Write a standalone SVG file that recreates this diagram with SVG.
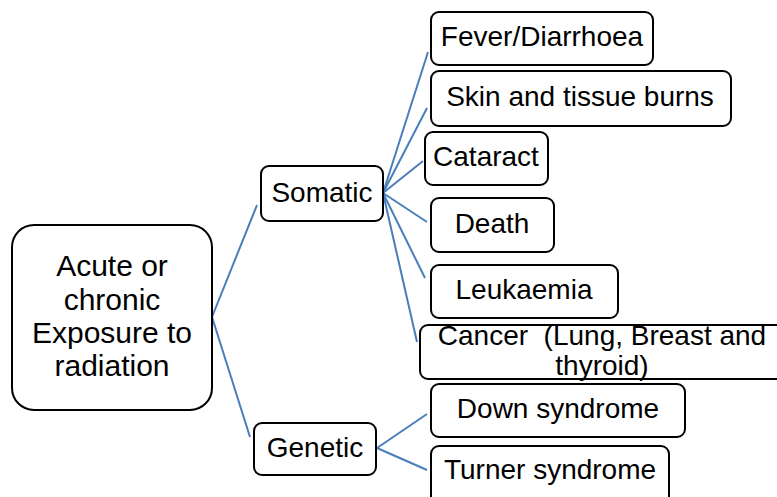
<svg xmlns="http://www.w3.org/2000/svg" width="777" height="497" viewBox="0 0 777 497">
<style>
.box{fill:#fff;stroke:#000;stroke-width:2}
.t{font-family:"Liberation Sans",Arial,sans-serif;font-size:28px;fill:#000;text-anchor:middle}
.r{font-size:30px}
.c{stroke:#4A7EBB;stroke-width:2;fill:none}
</style>
<rect width="777" height="497" fill="#fff"/>
<g id="connectors">
<line class="c" x1="212" y1="317" x2="257" y2="205"/>
<line class="c" x1="212" y1="317" x2="250" y2="437"/>
<line class="c" x1="383" y1="193" x2="428" y2="52"/>
<line class="c" x1="383" y1="193" x2="427" y2="108"/>
<line class="c" x1="383" y1="193" x2="423" y2="161"/>
<line class="c" x1="383" y1="193" x2="427" y2="222"/>
<line class="c" x1="383" y1="193" x2="425" y2="278"/>
<line class="c" x1="383" y1="193" x2="417" y2="342"/>
<line class="c" x1="377" y1="448" x2="427" y2="414"/>
<line class="c" x1="377" y1="448" x2="427" y2="470"/>
</g>
<g id="root">
<rect class="box" x="12" y="225" width="200" height="185" rx="22"/>
<text class="t r" x="112" y="276">Acute or</text>
<text class="t r" x="112" y="310">chronic</text>
<text class="t r" x="112" y="343">Exposure to</text>
<text class="t r" x="112" y="376">radiation</text>
</g>
<g id="somatic">
<rect class="box" x="261" y="166" width="122" height="55" rx="8"/>
<text class="t" x="322" y="202">Somatic</text>
</g>
<g id="genetic">
<rect class="box" x="254" y="423" width="122" height="52" rx="8"/>
<text class="t" x="315" y="457">Genetic</text>
</g>
<g id="fever">
<rect class="box" x="431" y="12" width="222" height="53" rx="8"/>
<text class="t" x="542" y="46">Fever/Diarrhoea</text>
</g>
<g id="skin">
<rect class="box" x="431" y="71" width="300" height="55" rx="8"/>
<text class="t" x="580" y="106">Skin and tissue burns</text>
</g>
<g id="cataract">
<rect class="box" x="425" y="132" width="123" height="53" rx="8"/>
<text class="t" x="486" y="166">Cataract</text>
</g>
<g id="death">
<rect class="box" x="431" y="198" width="123" height="54" rx="8"/>
<text class="t" x="492" y="233">Death</text>
</g>
<g id="leukaemia">
<rect class="box" x="431" y="265" width="187" height="53" rx="8"/>
<text class="t" x="524" y="299">Leukaemia</text>
</g>
<g id="cancer">
<rect class="box" x="420" y="325" width="364" height="54" rx="8"/>
<text class="t" x="602" y="345" xml:space="preserve">Cancer  (Lung, Breast and</text>
<text class="t" x="602" y="375">thyroid)</text>
</g>
<g id="down">
<rect class="box" x="431" y="384" width="254" height="53" rx="8"/>
<text class="t" x="558" y="418">Down syndrome</text>
</g>
<g id="turner">
<rect class="box" x="431" y="446" width="238" height="60" rx="8"/>
<text class="t" x="550" y="479">Turner syndrome</text>
</g>
</svg>
